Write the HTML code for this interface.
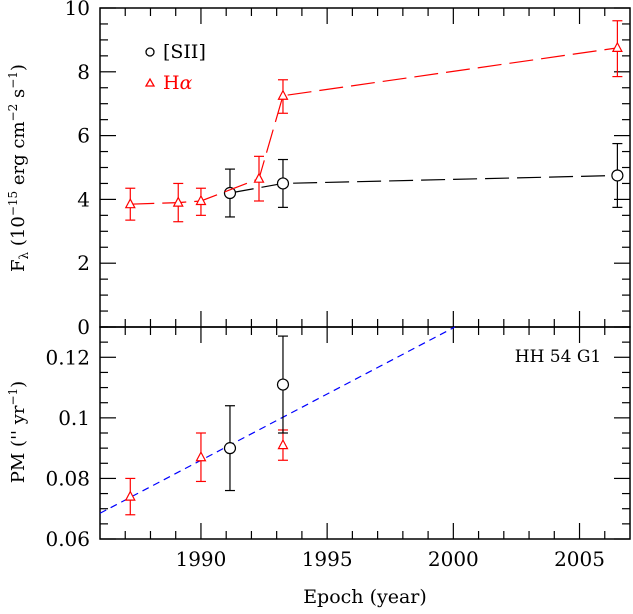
<!DOCTYPE html>
<html><head><meta charset="utf-8"><style>
html,body{margin:0;padding:0;background:#fff;}
svg text{font-family:"DejaVu Serif","Liberation Serif",serif;}
</style></head><body>
<svg id="chart" width="633" height="609" viewBox="0 0 633 609" xmlns="http://www.w3.org/2000/svg">
<g id="g"></g>
<text transform="translate(24,168) rotate(-90)" text-anchor="middle" font-size="18">F<tspan font-size="12" dy="4">λ</tspan><tspan dy="-4"> (10</tspan><tspan font-size="12" dy="-7">−15</tspan><tspan dy="7"> erg cm</tspan><tspan font-size="12" dy="-7">−2</tspan><tspan dy="7"> s</tspan><tspan font-size="12" dy="-7">−1</tspan><tspan dy="7">)</tspan></text>
<text transform="translate(24,432) rotate(-90)" text-anchor="middle" font-size="18">PM ('' yr<tspan font-size="12" dy="-7">−1</tspan><tspan dy="7">)</tspan></text>
<text x="365" y="603" text-anchor="middle" font-size="19">Epoch (year)</text>
<text x="558" y="362" text-anchor="middle" font-size="17">HH 54 G1</text>
<g>
<circle cx="150" cy="52" r="4" fill="none" stroke="#000" stroke-width="1.3"/>
<text x="163" y="58" font-size="19">[SII]</text>
<polygon points="146,86 154,86 150,79" fill="none" stroke="#f00" stroke-width="1.3"/>
<text x="163" y="89" font-size="19" fill="#f00">H<tspan font-style="italic">α</tspan></text>
</g>
</svg>
<script>
const haYears=[1987.2,1989.1,1990.0,1992.3,1993.25,2006.5];
const haFlux=[3.85,3.9,3.95,4.65,7.25,8.75];
const haFluxLo=[3.35,3.3,3.5,3.95,6.7,7.85];
const haFluxHi=[4.35,4.5,4.35,5.35,7.75,9.6];
const siiYears=[1991.15,1993.25,2006.5];
const siiFlux=[4.2,4.5,4.75];
const siiFluxLo=[3.45,3.75,3.75];
const siiFluxHi=[4.95,5.25,5.75];
const haPmYears=[1987.2,1990.0,1993.25];
const haPm=[0.074,0.087,0.091];
const haPmLo=[0.068,0.079,0.086];
const haPmHi=[0.080,0.095,0.096];
const siiPmYears=[1991.15,1993.25];
const siiPm=[0.090,0.111];
const siiPmLo=[0.076,0.095];
const siiPmHi=[0.104,0.127];
const fitYears=[1986,2000.06];
const fitPm=[0.0685,0.130];
const xTicks=[1990,1995,2000,2005];
const topTicks=[0,2,4,6,8,10];
const botTicks=[0.06,0.08,0.1,0.12];

const L=100,R=630,T=8,M=327,B=539;
const X=y=>L+(y-1986)/(2007-1986)*(R-L);
const YT=v=>M-(v/10)*(M-T);
const YB=v=>B-(v-0.06)/(0.13-0.06)*(B-M);
const g=document.getElementById('g');
const NS='http://www.w3.org/2000/svg';
function el(t,a,p){const e=document.createElementNS(NS,t);for(const k in a)e.setAttribute(k,a[k]);(p||g).appendChild(e);return e;}

let f=el('rect',{x:L,y:T,width:R-L,height:M-T,fill:'none',stroke:'#000','stroke-width':1.5});


f=el('rect',{x:L,y:M,width:R-L,height:B-M,fill:'none',stroke:'#000','stroke-width':1.5});



for(let yr=1987;yr<=2006;yr++){
  const maj=yr%5===0, len=maj?16:8, x=X(yr);
  [[T,1],[M,-1],[M,1],[B,-1]].forEach(([y0,d])=>el('line',{x1:x,x2:x,y1:y0,y2:y0+d*len,stroke:'#000','stroke-width':1.2}));
}
xTicks.forEach(v=>{const t=el('text',{x:X(v),y:B+27,'text-anchor':'middle','font-size':20});t.textContent=v;

});
for(let v=0;v<=10.001;v+=0.5){const maj=Math.abs(v/2-Math.round(v/2))<1e-6,len=maj?16:8,y=YT(v);
 el('line',{x1:L,x2:L+len,y1:y,y2:y,stroke:'#000','stroke-width':1.2});el('line',{x1:R,x2:R-len,y1:y,y2:y,stroke:'#000','stroke-width':1.2});}
topTicks.forEach(v=>{const t=el('text',{x:L-10,y:YT(v)+7,'text-anchor':'end','font-size':20});t.textContent=v;

});
for(let i=0;i<=14;i++){const v=0.06+i*0.005,maj=i%4===0,len=maj?16:8,y=YB(v);
 el('line',{x1:L,x2:L+len,y1:y,y2:y,stroke:'#000','stroke-width':1.2});el('line',{x1:R,x2:R-len,y1:y,y2:y,stroke:'#000','stroke-width':1.2});}
botTicks.forEach(v=>{const t=el('text',{x:L-10,y:YB(v)+7,'text-anchor':'end','font-size':20});t.textContent=String(v);

});

function series(xs,ys,lo,hi,Y,col,shape,name,line,dash){
  if(line){const p=el('polyline',{points:xs.map((x,i)=>X(x)+','+Y(ys[i])).join(' '),fill:'none',stroke:col,'stroke-width':1.2,'stroke-dasharray':dash});
  
  }
  xs.forEach((x,i)=>{const cx=X(x),cy=Y(ys[i]),y1=Y(lo[i]),y2=Y(hi[i]);
    const gg=el('g',{});
    
    
    el('line',{x1:cx,x2:cx,y1:y1,y2:y2,stroke:col,'stroke-width':1.2},gg);
    el('line',{x1:cx-5,x2:cx+5,y1:y1,y2:y1,stroke:col,'stroke-width':1.2},gg);
    el('line',{x1:cx-5,x2:cx+5,y1:y2,y2:y2,stroke:col,'stroke-width':1.2},gg);
    if(shape==='c')el('circle',{cx:cx,cy:cy,r:5.5,fill:'#fff',stroke:col,'stroke-width':1.2},gg);
    else el('polygon',{points:`${cx-4.5},${cy+3.5} ${cx+4.5},${cy+3.5} ${cx},${cy-5}`,fill:'#fff',stroke:col,'stroke-width':1.2},gg);
  });
}
const fit=el('line',{x1:X(fitYears[0]),y1:YB(fitPm[0]),x2:X(fitYears[1]),y2:YB(fitPm[1]),stroke:'#00f','stroke-width':1.2,'stroke-dasharray':'7,5'});


series(siiYears,siiFlux,siiFluxLo,siiFluxHi,YT,'#000','c','sii-flux',true,'24,8');
series(haYears,haFlux,haFluxLo,haFluxHi,YT,'#f00','t','halpha-flux',true,'24,8');
series(haPmYears,haPm,haPmLo,haPmHi,YB,'#f00','t','halpha-pm',false);
series(siiPmYears,siiPm,siiPmLo,siiPmHi,YB,'#000','c','sii-pm',false);
</script>
</body></html>
